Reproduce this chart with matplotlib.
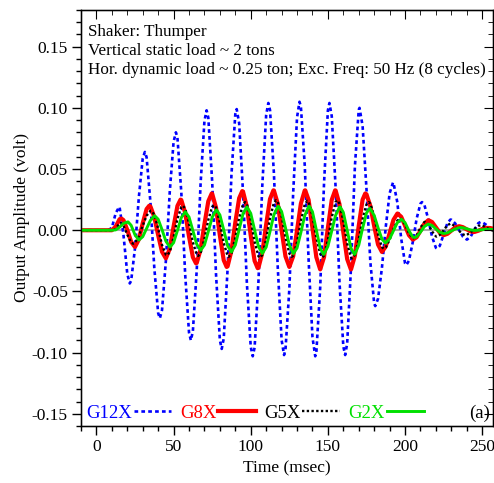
import numpy as np
import matplotlib
matplotlib.use("Agg")
import matplotlib.pyplot as plt
from matplotlib.ticker import MultipleLocator

plt.rcParams['font.family'] = ['Liberation Serif', 'DejaVu Serif']

# sampling grid (msec)
time_ms = np.arange(-10, 260, 2.5)

# values at each grid time (volt)
g12x = [0, 0, 0, 0, 0, 0, 0, 0,
        0.002, 0.014, 0.019, -0.0035,
        -0.0357, -0.0413, -0.0146, 0.0272,
        0.0587, 0.0597, 0.0228, -0.0308,
        -0.0677, -0.0653, -0.0251, 0.031,
        0.0723, 0.0756, 0.031, -0.0359,
        -0.0836, -0.0826, -0.0326, 0.038,
        0.0894, 0.092, 0.040, -0.036,
        -0.0899, -0.0885, -0.0317, 0.0453,
        0.0949, 0.0874, 0.0309, -0.0434,
        -0.0953, -0.0959, -0.0417, 0.0367,
        0.0943, 0.0981, 0.047, -0.0301,
        -0.0897, -0.0979, -0.0484, 0.0304,
        0.0922, 0.101, 0.053, -0.0242,
        -0.0874, -0.1001, -0.0471, 0.0385,
        0.098, 0.0932, 0.0352, -0.0421,
        -0.095, -0.0924, -0.0297, 0.0523,
        0.0986, 0.0851, 0.0339, -0.0257,
        -0.0601, -0.056, -0.031, 0.0027,
        0.0302, 0.0388, 0.0228, -0.0068,
        -0.0271, -0.025, -0.0098, 0.0094,
        0.0218, 0.0208, 0.0094, -0.0053,
        -0.0144, -0.0128, -0.0035, 0.006,
        0.0086, 0.0056, 0.0001, -0.0052,
        -0.0076, -0.0053, 0.0006, 0.0058,
        0.0066, 0.0045, 0.002, 0.0005]
g8x = [0, 0, 0, 0, 0, 0, 0, 0,
       0.0, 0.003, 0.009, 0.0083,
       0.0002, -0.0095, -0.0136, -0.0075,
       0.0057, 0.0173, 0.0194, 0.0108,
       -0.004, -0.0176, -0.023, -0.0152,
       0.003, 0.0199, 0.0247, 0.0143,
       -0.0051, -0.022, -0.0267, -0.0157,
       0.005, 0.0237, 0.0299, 0.0185,
       -0.0043, -0.0245, -0.0295, -0.0167,
       0.0063, 0.0262, 0.0316, 0.019,
       -0.0044, -0.025, -0.0306, -0.0184,
       0.0047, 0.0256, 0.0325, 0.0218,
       -0.0001, -0.0213, -0.030, -0.0213,
       -0.0001, 0.0218, 0.0325, 0.0248,
       0.0018, -0.022, -0.032, -0.022,
       0.0019, 0.0248, 0.0325, 0.0213,
       -0.0017, -0.0236, -0.032, -0.0208,
       0.0037, 0.025, 0.0294, 0.0198,
       0.0034, -0.0117, -0.0177, -0.0133,
       -0.0025, 0.0085, 0.0136, 0.011,
       0.0037, -0.004, -0.0076, -0.0057,
       -0.0004, 0.0053, 0.0081, 0.0067,
       0.0024, -0.002, -0.004, -0.0029,
       -0.0003, 0.0023, 0.0033, 0.0025,
       0.0007, -0.0009, -0.0014, -0.0004,
       0.001, 0.0019, 0.0018, 0.0012]
g5x = [0, 0, 0, 0, 0, 0, 0, 0,
       0.0, 0.001, 0.0058, 0.0037,
       -0.0036, -0.010, -0.0103, -0.0049,
       0.0038, 0.0118, 0.0159, 0.0127,
       0.0014, -0.012, -0.020, -0.0178,
       -0.0058, 0.0093, 0.019, 0.0178,
       0.0058, -0.0098, -0.020, -0.0188,
       -0.0071, 0.0084, 0.0191, 0.0186,
       0.0062, -0.0105, -0.021, -0.0189,
       -0.0063, 0.0101, 0.0213, 0.0213,
       0.0085, -0.0094, -0.0213, -0.0201,
       -0.0073, 0.010, 0.0224, 0.0232,
       0.0117, -0.0056, -0.019, -0.0208,
       -0.0099, 0.0075, 0.0212, 0.0231,
       0.0119, -0.0058, -0.0194, -0.0207,
       -0.0081, 0.0106, 0.0232, 0.0218,
       0.0075, -0.0109, -0.0222, -0.0201,
       -0.0074, 0.0092, 0.0211, 0.0218,
       0.0115, -0.0035, -0.0138, -0.014,
       -0.0078, 0.0009, 0.0079, 0.0092,
       0.0047, -0.0023, -0.0064, -0.0043,
       0.0022, 0.0067, 0.0048, -0.001,
       -0.005, -0.0039, -0.0001, 0.0042,
       0.0053, 0.0032, -0.0005, -0.0034,
       -0.0038, -0.0018, 0.0012, 0.0036,
       0.0039, 0.0025, 0.0005, -0.0005]
g2x = [0, 0, 0, 0, 0, 0, 0, 0,
       0.0, 0.0003, 0.0025, 0.0055,
       0.0067, 0.004, -0.0038, -0.008,
       -0.0053, 0.0013, 0.0081, 0.0117,
       0.009, 0.0005, -0.0089, -0.0136,
       -0.0102, -0.0002, 0.0103, 0.015,
       0.0108, -0.0002, -0.0114, -0.0163,
       -0.0121, -0.0011, 0.0105, 0.0164,
       0.0125, 0.0002, -0.0126, -0.0177,
       -0.0121, 0.0007, 0.0135, 0.019,
       0.0138, 0.0003, -0.0133, -0.019,
       -0.0138, -0.0009, 0.0126, 0.0194,
       0.0153, 0.0021, -0.0122, -0.019,
       -0.0145, -0.0018, 0.012, 0.0194,
       0.0151, 0.0003, -0.0146, -0.0195,
       -0.0132, -0.0006, 0.0122, 0.0188,
       0.0146, 0.0, -0.0148, -0.0195,
       -0.0122, 0.0017, 0.0141, 0.0175,
       0.0121, 0.002, -0.0072, -0.0103,
       -0.007, -0.0004, 0.0062, 0.009,
       0.0062, -0.0004, -0.0055, -0.0053,
       -0.0015, 0.003, 0.005, 0.0039,
       0.0012, -0.0016, -0.0027, -0.0021,
       -0.0006, 0.001, 0.0021, 0.002,
       0.0012, 0.0003, -0.0002, 0.0,
       0.0004, 0.0008, 0.0008, 0.0005]

# peaks and troughs (time msec, volt)
g12x_pk_t = [14.7, 21.6, 31.4, 41.1, 51.5, 61.2, 71.4, 81.2, 90.9, 101.3, 111.4, 121.6, 131.6,
             141.8, 151, 161.2, 170.5, 180.7, 192.2, 200.8, 211, 220.8, 229.4, 240.2, 249]
g12x_pk_v = [0.019, -0.0435, 0.064, -0.072, 0.080, -0.090, 0.098, -0.097, 0.099, -0.103, 0.104,
             -0.102, 0.105, -0.103, 0.104, -0.102, 0.100, -0.062, 0.039, -0.0285, 0.023, -0.015,
             0.0087, -0.0076, 0.0068]
g8x_pk_t = [16.2, 24.9, 34.2, 45, 54.5, 64.5, 74.7, 84.4, 94.5, 104.5, 114.7, 125, 135.3, 145,
            154.7, 164.9, 174.2, 185, 195.2, 205.2, 215.3, 225.1, 234.8, 244.5]
g8x_pk_v = [0.0095, -0.0136, 0.020, -0.023, 0.025, -0.027, 0.030, -0.030, 0.032, -0.031, 0.0326,
            -0.030, 0.0326, -0.032, 0.0326, -0.032, 0.030, -0.0177, 0.0136, -0.0076, 0.0081,
            -0.004, 0.0033, -0.0014]
g5x_pk_t = [15.5, 23.8, 35.5, 45.8, 56, 66, 76.2, 85.8, 96.3, 106, 116.4, 126.6, 136.6, 146.5,
            156, 165.8, 176.4, 186.1, 196.8, 205.5, 213, 220.5, 229.4, 239, 249]
g5x_pk_v = [0.006, -0.011, 0.016, -0.0205, 0.020, -0.021, 0.0205, -0.0217, 0.023, -0.0225, 0.0245,
            -0.0217, 0.024, -0.022, 0.0245, -0.023, 0.023, -0.015, 0.0095, -0.0065, 0.0068,
            -0.0052, 0.0054, -0.004, 0.004]
g2x_pk_t = [20.5, 27.5, 37.9, 47.8, 57.6, 67.6, 77.9, 87.4, 97.6, 107.5, 117.9, 127.7, 138, 147.1,
            158, 167.1, 177, 187.2, 197.6, 206, 215, 225, 236]
g2x_pk_v = [0.0068, -0.008, 0.0117, -0.0136, 0.015, -0.0163, 0.0165, -0.0177, 0.019, -0.019,
            0.0195, -0.019, 0.0195, -0.0196, 0.019, -0.0196, 0.0177, -0.0103, 0.009, -0.006,
            0.005, -0.0027, 0.0022]

info_lines = ["Shaker: Thumper",
              "Vertical static load ~ 2 tons",
              "Hor. dynamic load ~ 0.25 ton; Exc. Freq: 50 Hz (8 cycles)"]


def merged(vals, pk_t, pk_v):
    t = np.concatenate([time_ms, pk_t])
    v = np.concatenate([vals, pk_v])
    order = np.argsort(t, kind='stable')
    return t[order], v[order]


fig = plt.figure(figsize=(4.94, 4.83), dpi=100)
ax = fig.add_axes([81 / 494, 57 / 483, 412 / 494, 416 / 483])

ax.axhline(0, color='#aaaaaa', lw=1.5, zorder=1)

fs = 12.5
t, v = merged(g12x, g12x_pk_t, g12x_pk_v)
ax.plot(t, v, color='#0000ff', lw=1.9, ls=(0, (1.4, 1.2)), label='G12X', zorder=2)
t, v = merged(g8x, g8x_pk_t, g8x_pk_v)
ax.plot(t, v, color='#ff0000', lw=3.0, label='G8X', zorder=3)
t, v = merged(g5x, g5x_pk_t, g5x_pk_v)
ax.plot(t, v, color='black', lw=1.7, ls=(0, (1, 1)), label='G5X', zorder=4)
t, v = merged(g2x, g2x_pk_t, g2x_pk_v)
ax.plot(t, v, color='#00e000', lw=2.1, label='G2X', zorder=5)

ax.set_xlim(-10, 257)
ax.set_ylim(-0.16, 0.18)
ax.xaxis.set_major_locator(MultipleLocator(50))
ax.xaxis.set_minor_locator(MultipleLocator(10))
ax.yaxis.set_minor_locator(MultipleLocator(0.01))
ax.set_yticks(np.arange(-0.15, 0.16, 0.05))
ax.set_yticklabels(['%.2f' % y for y in np.arange(-0.15, 0.16, 0.05)])
ax.tick_params(which='major', direction='out', length=6.5, width=1, labelsize=fs, pad=3)
ax.tick_params(which='minor', direction='out', length=3.5, width=1)
for s in ax.spines.values():
    s.set_linewidth(1)

# mirrored ticks on top and right, pointing inward
axt = ax.twiny()
axt.set_xlim(ax.get_xlim())
axt.xaxis.set_major_locator(MultipleLocator(50))
axt.xaxis.set_minor_locator(MultipleLocator(10))
axt.tick_params(which='major', direction='in', length=6.5, labeltop=False)
axt.tick_params(which='minor', direction='in', length=3.5)
axr = ax.twinx()
axr.set_ylim(ax.get_ylim())
axr.yaxis.set_major_locator(MultipleLocator(0.05))
axr.yaxis.set_minor_locator(MultipleLocator(0.01))
axr.tick_params(which='major', direction='in', length=6.5, labelright=False)
axr.tick_params(which='minor', direction='in', length=3.5)

ax.set_xlabel('Time (msec)', fontsize=fs, labelpad=4)
ax.set_ylabel('Output Amplitude (volt)', fontsize=fs, labelpad=1)

for i, line in enumerate(info_lines):
    ax.text(0.017, 0.947 - i * 0.0455, line, transform=ax.transAxes,
            fontsize=12.3, va='center', ha='left')

ax.text(0.993, 0.031, '(a)', transform=ax.transAxes, fontsize=13.5, va='center', ha='right')

ax.legend(loc='center left', bbox_to_anchor=(0.013, 0.031), ncol=4, markerfirst=False,
          frameon=False, fontsize=13.5, labelcolor='linecolor', handlelength=2.0,
          handletextpad=0.1, columnspacing=0.45, borderpad=0, borderaxespad=0)

fig.savefig('out.png', dpi=100)
